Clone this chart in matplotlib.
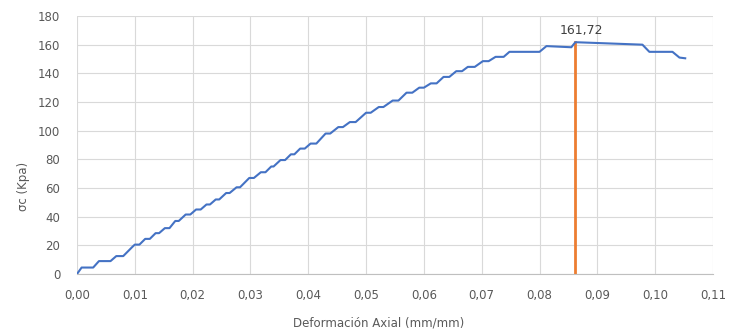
import matplotlib as mpl
mpl.use('Agg')
import matplotlib.pyplot as plt
from matplotlib.ticker import FuncFormatter, MultipleLocator

mpl.rcParams['font.family'] = 'DejaVu Sans'
mpl.rcParams['font.size'] = 8.5

# curva esfuerzo - deformacion
strain = [0.0000, 0.0008, 0.0028, 0.0038, 0.0058, 0.0068, 0.0080, 0.0096, 0.0100, 0.0108,
          0.0118, 0.0126, 0.0136, 0.0142, 0.0152, 0.0160, 0.0170, 0.0176, 0.0188, 0.0196,
          0.0206, 0.0214, 0.0224, 0.0230, 0.0240, 0.0246, 0.0258, 0.0264, 0.0276, 0.0282,
          0.0298, 0.0306, 0.0318, 0.0326, 0.0336, 0.0340, 0.0352, 0.0360, 0.0370, 0.0376,
          0.0386, 0.0394, 0.0404, 0.0414, 0.0430, 0.0438, 0.0452, 0.0460, 0.0472, 0.0482,
          0.0500, 0.0508, 0.0522, 0.0530, 0.0546, 0.0556, 0.0570, 0.0580, 0.0592, 0.0600,
          0.0612, 0.0622, 0.0634, 0.0644, 0.0656, 0.0666, 0.0676, 0.0688, 0.0702, 0.0712,
          0.0724, 0.0738, 0.0748, 0.0800, 0.0812, 0.0855, 0.0862, 0.0978, 0.0990, 0.1030,
          0.1042, 0.1052]
stress = [0.0, 4.5, 4.5, 9.0, 9.0, 12.5, 12.5, 19.0, 20.5, 20.5,
          24.5, 24.5, 28.5, 28.5, 32.0, 32.0, 37.0, 37.0, 41.5, 41.5,
          45.0, 45.0, 48.5, 48.5, 52.0, 52.0, 56.5, 56.5, 60.5, 60.5,
          67.0, 67.0, 71.0, 71.0, 75.0, 75.0, 79.5, 79.5, 83.5, 83.5,
          87.5, 87.5, 91.0, 91.0, 98.0, 98.0, 102.5, 102.5, 106.0, 106.0,
          112.5, 112.5, 116.5, 116.5, 121.0, 121.0, 126.5, 126.5, 130.0, 130.0,
          133.0, 133.0, 137.5, 137.5, 141.5, 141.5, 144.5, 144.5, 148.5, 148.5,
          151.5, 151.5, 155.0, 155.0, 159.0, 158.2, 161.72, 160.0, 155.0, 155.0,
          151.0, 150.5]

peak_strain = 0.0861
peak_stress = 161.72

fig = plt.figure(figsize=(7.29, 3.32), dpi=100)
ax = fig.add_axes([0.1056, 0.1747, 0.8724, 0.7771])

ax.plot(strain, stress, color='#4472C4', lw=1.5, zorder=3)
ax.plot([peak_strain, peak_strain], [0, peak_stress], color='#ED7D31', lw=2, zorder=2)
ax.text(peak_strain + 0.0011, peak_stress + 8, '161,72', ha='center', va='center',
        color='#404040', fontsize=9)

ax.set_xlim(0, 0.11)
ax.set_ylim(0, 180)
ax.xaxis.set_major_locator(MultipleLocator(0.01))
ax.yaxis.set_major_locator(MultipleLocator(20))
ax.xaxis.set_major_formatter(FuncFormatter(lambda v, p: ('%.2f' % v).replace('.', ',')))
ax.yaxis.set_major_formatter(FuncFormatter(lambda v, p: '%d' % round(v)))

ax.grid(True, color='#d9d9d9', lw=0.8)
ax.set_axisbelow(True)
for s in ['top', 'right', 'left']:
    ax.spines[s].set_visible(False)
ax.spines['bottom'].set_color('#bfbfbf')
ax.tick_params(length=0, colors='#595959', labelsize=8.5)
ax.tick_params(axis='x', pad=11)
ax.tick_params(axis='y', pad=12)

fig.text(0.032, 0.437, 'σc (Kpa)', rotation=90, ha='center', va='center',
         color='#595959', fontsize=8.5)
fig.text(0.519, 0.027, 'Deformación Axial (mm/mm)', ha='center', va='center',
         color='#595959', fontsize=8.5)

plt.savefig('out.png', dpi=100)
